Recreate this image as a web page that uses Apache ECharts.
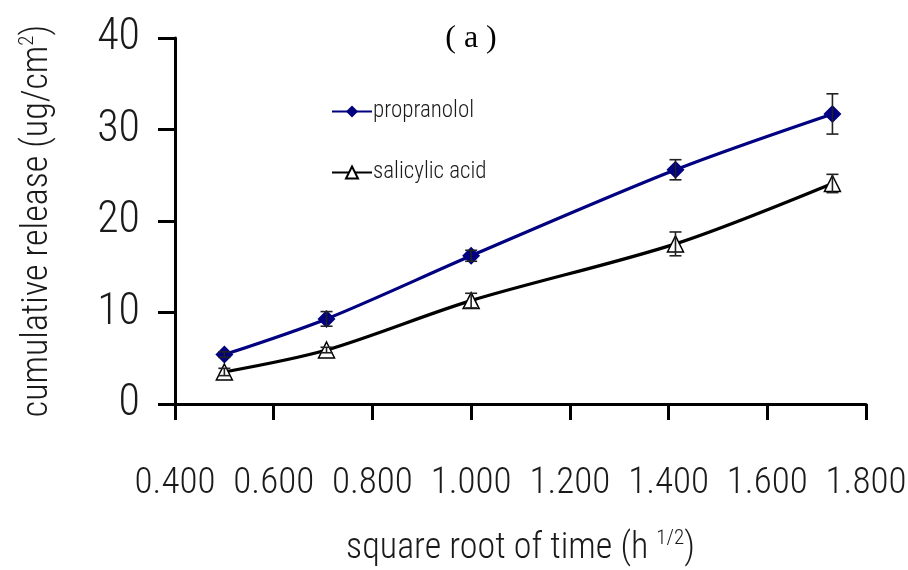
<!DOCTYPE html>
<html>
<head>
<meta charset="utf-8">
<script src="https://cdn.jsdelivr.net/npm/echarts@6/dist/echarts.min.js"></script>
<style>
  html, body { margin: 0; padding: 0; background: #fff; }
  #chart { width: 908px; height: 570px; }
</style>
</head>
<body>
<div id="chart"></div>
<script>
// Cumulative release vs. square root of time
const sqrtTime = [0.5, 0.707, 1.0, 1.414, 1.732];
const propranolol = [5.4, 9.3, 16.2, 25.6, 31.7];
const propranololErr = [0.3, 0.8, 0.6, 1.1, 2.2];
const salicylic = [3.5, 5.9, 11.3, 17.5, 24.1];
const salicylicErr = [0.4, 0.3, 0.8, 1.3, 1.0];
const xTicks = { min: 0.4, max: 1.8, step: 0.2 };
const yTicks = { min: 0, max: 40, step: 10 };

const NARROW = "'Roboto Condensed', 'DejaVu Sans Condensed', sans-serif";
const LIGHT = 300;
const INK = '#1a1a1a';

function pairs(xs, ys) { return xs.map((x, i) => [x, ys[i]]); }
function errRows(xs, ys, es) { return xs.map((x, i) => [x, ys[i], es[i]]); }

function errorBarSeries(rows) {
  return {
    type: 'custom',
    z: 5,
    silent: true,
    data: rows,
    encode: { x: 0, y: 1 },
    renderItem: function (params, api) {
      const x = api.value(0), y = api.value(1), e = api.value(2);
      const top = api.coord([x, y + e]);
      const bot = api.coord([x, y - e]);
      const w = 6;
      const style = { stroke: '#222', lineWidth: 1.6 };
      return {
        type: 'group',
        children: [
          { type: 'line', shape: { x1: top[0], y1: top[1], x2: bot[0], y2: bot[1] }, style },
          { type: 'line', shape: { x1: top[0] - w, y1: top[1], x2: top[0] + w, y2: top[1] }, style },
          { type: 'line', shape: { x1: bot[0] - w, y1: bot[1], x2: bot[0] + w, y2: bot[1] }, style }
        ]
      };
    }
  };
}

const nameStyle = {
  fontFamily: NARROW, fontWeight: LIGHT, fontSize: 36, color: INK, lineHeight: 42,
  rich: { sup: { fontFamily: NARROW, fontWeight: LIGHT, fontSize: 21, color: INK, verticalAlign: 'top', lineHeight: 42 } }
};

const chart = echarts.init(document.getElementById('chart'), null, { renderer: 'canvas' });
chart.setOption({
  animation: false,
  backgroundColor: '#fff',
  title: {
    text: '( a )',
    left: 466,
    top: 18,
    textAlign: 'center',
    textStyle: { fontFamily: "'Liberation Serif', 'DejaVu Serif', serif", fontSize: 32, fontWeight: 'normal', color: '#000' }
  },
  legend: {
    orient: 'vertical',
    left: 326,
    top: 95,
    itemGap: 38,
    itemWidth: 40,
    itemHeight: 15,
    textStyle: { fontFamily: NARROW, fontWeight: LIGHT, fontSize: 23, color: INK, padding: [0, 0, 0, -4] },
    data: ['propranolol', 'salicylic acid']
  },
  grid: { left: 175, right: 42, top: 38, bottom: 166, outerBoundsMode: 'none', containLabel: false },
  xAxis: {
    type: 'value',
    min: xTicks.min,
    max: xTicks.max,
    interval: xTicks.step,
    name: 'square root of time (h {sup|1/2})',
    nameLocation: 'middle',
    nameGap: 124,
    nameTextStyle: nameStyle,
    axisLine: { lineStyle: { color: '#000', width: 3 } },
    axisTick: { length: 16, lineStyle: { color: '#000', width: 3 } },
    axisLabel: {
      margin: 61,
      showMinLabel: true,
      showMaxLabel: true,
      hideOverlap: false,
      fontFamily: NARROW, fontWeight: LIGHT, fontSize: 37, color: INK,
      formatter: v => v.toFixed(3)
    },
    splitLine: { show: false }
  },
  yAxis: {
    type: 'value',
    min: yTicks.min,
    max: yTicks.max,
    interval: yTicks.step,
    name: 'cumulative release (ug/cm{sup|2})',
    nameLocation: 'middle',
    nameGap: 116,
    nameTextStyle: nameStyle,
    axisLine: { show: true, lineStyle: { color: '#000', width: 3 } },
    axisTick: { show: true, length: 17, lineStyle: { color: '#000', width: 3 } },
    axisLabel: { margin: 35, showMinLabel: true, showMaxLabel: true, fontFamily: NARROW, fontWeight: LIGHT, fontSize: 44, color: INK },
    splitLine: { show: false }
  },
  series: [
    {
      name: 'propranolol',
      type: 'line',
      smooth: 0.3,
      data: pairs(sqrtTime, propranolol),
      symbol: 'diamond',
      symbolSize: 18,
      color: '#000080',
      lineStyle: { color: '#000080', width: 3.2 },
      itemStyle: { color: '#000080' },
      z: 3
    },
    {
      name: 'salicylic acid',
      type: 'line',
      smooth: 0.3,
      data: pairs(sqrtTime, salicylic),
      symbol: 'triangle',
      symbolSize: 16,
      color: '#000',
      lineStyle: { color: '#000', width: 3.2 },
      itemStyle: { color: '#fff', borderColor: '#000', borderWidth: 1.5 },
      z: 3
    },
    errorBarSeries(errRows(sqrtTime, propranolol, propranololErr)),
    errorBarSeries(errRows(sqrtTime, salicylic, salicylicErr))
  ]
});
</script>
</body>
</html>
